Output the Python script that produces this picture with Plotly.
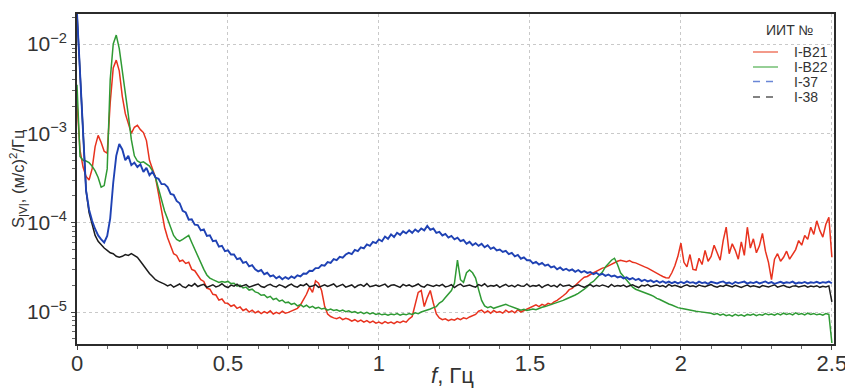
import plotly.graph_objects as go

# frequency grid, Hz (0.00 ... 2.50 step 0.01)
freq_hz = [round(0.01 * i, 2) for i in range(251)]

series_names = ["I-B21", "I-B22", "I-37", "I-38"]

s_IB21 = [
    2.2e-3, 6.5e-4, 4.2e-4, 3.3e-4, 3.0e-4, 4.0e-4, 7.1e-4, 9.5e-4, 7.9e-4, 6.3e-4,
    6.0e-4, 2.2e-3, 5.4e-3, 6.6e-3, 5.0e-3, 2.6e-3, 1.66e-3, 1.26e-3, 1.0e-3, 1.17e-3,
    1.23e-3, 1.1e-3, 1.02e-3, 8.3e-4, 5.0e-4, 4.0e-4, 3.2e-4, 2.1e-4, 1.32e-4, 8.9e-5,
    6.8e-5, 5.6e-5, 4.5e-5, 4.3e-5, 3.7e-5, 3.8e-5, 3.5e-5, 3.6e-5, 3.0e-5, 2.9e-5,
    2.6e-5, 2.3e-5, 2.2e-5, 1.85e-5, 1.8e-5, 1.58e-5, 1.55e-5, 1.36e-5, 1.4e-5, 1.26e-5,
    1.25e-5, 1.16e-5, 1.2e-5, 1.1e-5, 1.14e-5, 1.04e-5, 1.08e-5, 1.0e-5, 1.05e-5, 9.8e-6,
    1.02e-5, 9.6e-6, 1.01e-5, 9.7e-6, 1.03e-5, 9.5e-6, 9.9e-6, 9.6e-6, 1.02e-5, 9.7e-6,
    9.9e-6, 1.02e-5, 1.05e-5, 1.1e-5, 1.2e-5, 1.38e-5, 1.58e-5, 1.9e-5, 1.66e-5, 2.24e-5,
    2.1e-5, 1.74e-5, 1.17e-5, 9.5e-6, 8.9e-6, 8.6e-6, 8.4e-6, 8.7e-6, 8.2e-6, 8.5e-6,
    8.3e-6, 7.9e-6, 8.2e-6, 7.8e-6, 8.1e-6, 7.7e-6, 8.0e-6, 7.6e-6, 7.9e-6, 7.5e-6,
    7.7e-6, 7.4e-6, 7.8e-6, 7.5e-6, 7.7e-6, 7.4e-6, 7.8e-6, 7.6e-6, 7.9e-6, 7.7e-6,
    8.4e-6, 8.9e-6, 1.2e-5, 1.66e-5, 1.74e-5, 1.15e-5, 1.45e-5, 1.74e-5, 1.26e-5, 9.5e-6,
    8.6e-6, 8.2e-6, 8.4e-6, 8.0e-6, 8.3e-6, 8.1e-6, 8.5e-6, 8.2e-6, 8.6e-6, 8.4e-6,
    8.8e-6, 9.1e-6, 9.4e-6, 1.02e-5, 1.05e-5, 9.8e-6, 1.03e-5, 9.7e-6, 1.04e-5, 9.9e-6,
    1.01e-5, 9.7e-6, 1.05e-5, 9.9e-6, 1.03e-5, 9.8e-6, 1.06e-5, 1.0e-5, 1.04e-5, 1.08e-5,
    1.12e-5, 1.16e-5, 1.2e-5, 1.15e-5, 1.22e-5, 1.18e-5, 1.25e-5, 1.22e-5, 1.3e-5, 1.35e-5,
    1.45e-5, 1.52e-5, 1.62e-5, 1.78e-5, 1.84e-5, 2.0e-5, 2.14e-5, 2.3e-5, 2.45e-5, 2.5e-5,
    2.63e-5, 2.75e-5, 2.82e-5, 3.0e-5, 3.1e-5, 3.16e-5, 3.3e-5, 3.45e-5, 3.55e-5, 3.7e-5,
    3.8e-5, 3.72e-5, 3.65e-5, 3.76e-5, 3.6e-5, 3.55e-5, 3.45e-5, 3.3e-5, 3.2e-5, 3.1e-5,
    2.95e-5, 2.85e-5, 2.7e-5, 2.6e-5, 2.5e-5, 2.42e-5, 2.4e-5, 2.75e-5, 3.3e-5, 4.2e-5,
    5.9e-5, 3.6e-5, 3.2e-5, 4.4e-5, 3.0e-5, 2.95e-5, 4.0e-5, 3.4e-5, 4.9e-5, 3.7e-5,
    4.2e-5, 5.6e-5, 4.6e-5, 3.8e-5, 6.3e-5, 8.9e-5, 4.5e-5, 5.8e-5, 4.9e-5, 3.9e-5,
    6.1e-5, 4.3e-5, 8.9e-5, 5.2e-5, 6.6e-5, 4.6e-5, 5.5e-5, 7.6e-5, 4.8e-5, 3.6e-5,
    2.3e-5, 3.9e-5, 4.5e-5, 3.7e-5, 4.1e-5, 4.8e-5, 3.9e-5, 4.4e-5, 5.0e-5, 6.3e-5,
    5.6e-5, 7.2e-5, 6.5e-5, 8.9e-5, 7.4e-5, 1.05e-4, 8.2e-5, 6.9e-5, 9.6e-5, 1.15e-4,
    4.1e-5,
]

s_IB22 = [
    3.5e-3, 5.5e-4, 5.0e-4, 4.9e-4, 4.7e-4, 4.3e-4, 3.8e-4, 3.2e-4, 2.5e-4, 2.6e-4,
    4.0e-4, 4.0e-3, 1.0e-2, 1.26e-2, 8.9e-3, 5.2e-3, 3.0e-3, 1.6e-3, 8.5e-4, 5.6e-4,
    4.9e-4, 4.7e-4, 4.8e-4, 4.5e-4, 4.3e-4, 3.8e-4, 3.2e-4, 2.4e-4, 1.74e-4, 1.35e-4,
    1.1e-4, 8.7e-5, 7.2e-5, 6.5e-5, 6.2e-5, 6.5e-5, 6.9e-5, 7.2e-5, 6.0e-5, 5.0e-5,
    4.2e-5, 3.5e-5, 3.0e-5, 2.6e-5, 2.4e-5, 2.3e-5, 2.2e-5, 2.14e-5, 2.2e-5, 2.16e-5,
    2.2e-5, 2.08e-5, 2.1e-5, 1.95e-5, 2.0e-5, 1.86e-5, 1.9e-5, 1.76e-5, 1.8e-5, 1.68e-5,
    1.64e-5, 1.54e-5, 1.56e-5, 1.45e-5, 1.5e-5, 1.38e-5, 1.42e-5, 1.32e-5, 1.36e-5, 1.27e-5,
    1.29e-5, 1.22e-5, 1.25e-5, 1.17e-5, 1.21e-5, 1.14e-5, 1.19e-5, 1.12e-5, 1.16e-5, 1.1e-5,
    1.13e-5, 1.08e-5, 1.1e-5, 1.05e-5, 1.08e-5, 1.04e-5, 1.06e-5, 1.02e-5, 1.05e-5, 1.01e-5,
    1.03e-5, 9.9e-6, 1.01e-5, 9.7e-6, 1.0e-5, 9.6e-6, 9.9e-6, 9.5e-6, 9.8e-6, 9.4e-6,
    9.6e-6, 9.3e-6, 9.5e-6, 9.2e-6, 9.5e-6, 9.3e-6, 9.6e-6, 9.2e-6, 9.5e-6, 9.3e-6,
    9.6e-6, 9.4e-6, 9.8e-6, 9.6e-6, 1.0e-5, 1.02e-5, 1.05e-5, 1.08e-5, 1.12e-5, 1.15e-5,
    1.26e-5, 1.32e-5, 1.45e-5, 1.6e-5, 1.74e-5, 2.1e-5, 3.8e-5, 2.3e-5, 2.15e-5, 2.75e-5,
    2.95e-5, 2.75e-5, 2.4e-5, 1.78e-5, 1.35e-5, 1.17e-5, 1.12e-5, 1.15e-5, 1.1e-5, 1.13e-5,
    1.16e-5, 1.2e-5, 1.22e-5, 1.18e-5, 1.14e-5, 1.1e-5, 1.08e-5, 1.05e-5, 1.07e-5, 1.04e-5,
    1.05e-5, 1.08e-5, 1.06e-5, 1.1e-5, 1.13e-5, 1.15e-5, 1.18e-5, 1.2e-5, 1.24e-5, 1.27e-5,
    1.32e-5, 1.35e-5, 1.4e-5, 1.44e-5, 1.5e-5, 1.55e-5, 1.62e-5, 1.7e-5, 1.8e-5, 1.92e-5,
    2.1e-5, 2.2e-5, 2.4e-5, 2.6e-5, 2.8e-5, 3.2e-5, 3.5e-5, 3.8e-5, 4.0e-5, 3.4e-5,
    2.75e-5, 2.5e-5, 2.3e-5, 2.1e-5, 1.9e-5, 1.8e-5, 1.74e-5, 1.7e-5, 1.66e-5, 1.6e-5,
    1.55e-5, 1.5e-5, 1.42e-5, 1.38e-5, 1.32e-5, 1.28e-5, 1.23e-5, 1.2e-5, 1.15e-5, 1.12e-5,
    1.1e-5, 1.08e-5, 1.06e-5, 1.05e-5, 1.03e-5, 1.02e-5, 1.01e-5, 1.0e-5, 9.9e-6, 9.8e-6,
    9.7e-6, 9.4e-6, 9.6e-6, 9.2e-6, 9.5e-6, 9.1e-6, 9.3e-6, 9.0e-6, 9.4e-6, 9.1e-6,
    9.3e-6, 9.0e-6, 9.4e-6, 9.2e-6, 9.5e-6, 9.1e-6, 9.4e-6, 9.2e-6, 9.6e-6, 9.3e-6,
    9.5e-6, 9.2e-6, 9.6e-6, 9.3e-6, 9.7e-6, 9.4e-6, 9.6e-6, 9.3e-6, 9.8e-6, 9.4e-6,
    9.6e-6, 9.3e-6, 9.7e-6, 9.4e-6, 9.6e-6, 9.3e-6, 9.5e-6, 9.2e-6, 9.6e-6, 9.4e-6,
    4.5e-6,
]

s_I37 = [
    2.2e-2, 5.0e-3, 8.3e-4, 2.3e-4, 1.4e-4, 1.05e-4, 8.5e-5, 7.2e-5, 6.5e-5, 6.0e-5,
    7.1e-5, 1.12e-4, 2.8e-4, 5.6e-4, 7.6e-4, 6.6e-4, 5.0e-4, 5.6e-4, 4.4e-4, 4.7e-4,
    4.2e-4, 4.5e-4, 3.7e-4, 4.1e-4, 3.4e-4, 3.7e-4, 3.2e-4, 3.1e-4, 2.7e-4, 2.7e-4,
    2.5e-4, 2.1e-4, 2.05e-4, 1.75e-4, 1.65e-4, 1.36e-4, 1.3e-4, 1.08e-4, 1.09e-4, 9.5e-5,
    9.4e-5, 8.2e-5, 8.4e-5, 7.1e-5, 7.2e-5, 6.2e-5, 6.3e-5, 5.4e-5, 5.5e-5, 4.8e-5,
    4.9e-5, 4.4e-5, 4.4e-5, 3.9e-5, 4.0e-5, 3.55e-5, 3.65e-5, 3.25e-5, 3.35e-5, 3.0e-5,
    2.85e-5, 2.95e-5, 2.65e-5, 2.75e-5, 2.5e-5, 2.58e-5, 2.38e-5, 2.5e-5, 2.33e-5, 2.46e-5,
    2.35e-5, 2.5e-5, 2.4e-5, 2.58e-5, 2.5e-5, 2.7e-5, 2.68e-5, 2.9e-5, 2.88e-5, 3.1e-5,
    3.1e-5, 3.35e-5, 3.3e-5, 3.62e-5, 3.55e-5, 3.9e-5, 3.8e-5, 4.15e-5, 4.05e-5, 4.4e-5,
    4.6e-5, 4.45e-5, 4.95e-5, 4.8e-5, 5.3e-5, 5.15e-5, 5.7e-5, 5.5e-5, 6.1e-5, 5.9e-5,
    6.5e-5, 6.2e-5, 7.0e-5, 6.6e-5, 7.4e-5, 6.9e-5, 7.7e-5, 7.3e-5, 8.0e-5, 7.6e-5,
    8.2e-5, 7.7e-5, 8.4e-5, 7.9e-5, 8.6e-5, 8.2e-5, 9.2e-5, 8.3e-5, 8.6e-5, 7.7e-5,
    7.9e-5, 7.2e-5, 7.5e-5, 6.8e-5, 7.1e-5, 6.5e-5, 6.8e-5, 6.2e-5, 6.4e-5, 5.8e-5,
    6.1e-5, 5.6e-5, 5.9e-5, 5.5e-5, 5.8e-5, 5.3e-5, 5.6e-5, 5.1e-5, 5.3e-5, 4.9e-5,
    5.0e-5, 4.7e-5, 4.85e-5, 4.45e-5, 4.6e-5, 4.2e-5, 4.35e-5, 3.95e-5, 4.1e-5, 3.8e-5,
    3.8e-5, 3.5e-5, 3.65e-5, 3.4e-5, 3.55e-5, 3.3e-5, 3.4e-5, 3.15e-5, 3.25e-5, 3.0e-5,
    3.15e-5, 2.95e-5, 3.05e-5, 2.9e-5, 3.0e-5, 2.82e-5, 2.95e-5, 2.78e-5, 2.88e-5, 2.74e-5,
    2.8e-5, 2.66e-5, 2.75e-5, 2.6e-5, 2.68e-5, 2.54e-5, 2.63e-5, 2.5e-5, 2.56e-5, 2.44e-5,
    2.5e-5, 2.38e-5, 2.44e-5, 2.32e-5, 2.4e-5, 2.28e-5, 2.35e-5, 2.22e-5, 2.3e-5, 2.2e-5,
    2.26e-5, 2.16e-5, 2.24e-5, 2.13e-5, 2.21e-5, 2.12e-5, 2.19e-5, 2.1e-5, 2.18e-5, 2.09e-5,
    2.17e-5, 2.1e-5, 2.2e-5, 2.12e-5, 2.16e-5, 2.08e-5, 2.19e-5, 2.11e-5, 2.15e-5, 2.07e-5,
    2.18e-5, 2.12e-5, 2.09e-5, 2.16e-5, 2.2e-5, 2.1e-5, 2.14e-5, 2.06e-5, 2.17e-5, 2.11e-5,
    2.13e-5, 2.19e-5, 2.08e-5, 2.15e-5, 2.11e-5, 2.18e-5, 2.09e-5, 2.14e-5, 2.2e-5, 2.1e-5,
    2.16e-5, 2.07e-5, 2.13e-5, 2.18e-5, 2.1e-5, 2.15e-5, 2.12e-5, 2.19e-5, 2.08e-5, 2.14e-5,
    2.11e-5, 2.17e-5, 2.09e-5, 2.15e-5, 2.12e-5, 2.18e-5, 2.1e-5, 2.16e-5, 2.13e-5, 2.19e-5,
    2.1e-5,
]

s_I38 = [
    2.2e-2, 5.0e-3, 8.3e-4, 2.3e-4, 1.3e-4, 9.3e-5, 7.2e-5, 6.2e-5, 5.6e-5, 5.2e-5,
    4.9e-5, 4.6e-5, 4.5e-5, 4.2e-5, 4.1e-5, 4.2e-5, 4.4e-5, 4.3e-5, 4.5e-5, 4.3e-5,
    4.1e-5, 3.7e-5, 3.3e-5, 3.0e-5, 2.7e-5, 2.5e-5, 2.3e-5, 2.2e-5, 2.1e-5, 2.05e-5,
    1.96e-5, 2.03e-5, 1.90e-5, 1.98e-5, 2.06e-5, 1.92e-5, 1.87e-5, 2.01e-5, 1.95e-5, 2.08e-5,
    1.93e-5, 1.99e-5, 2.04e-5, 1.89e-5, 1.97e-5, 2.02e-5, 1.91e-5, 1.96e-5, 2.07e-5, 1.94e-5,
    1.88e-5, 2.00e-5, 1.95e-5, 2.05e-5, 1.92e-5, 1.98e-5, 2.03e-5, 1.90e-5, 1.97e-5, 2.01e-5,
    2.06e-5, 1.93e-5, 1.89e-5, 1.99e-5, 2.04e-5, 1.95e-5, 1.91e-5, 2.02e-5, 1.96e-5, 1.88e-5,
    1.98e-5, 2.05e-5, 1.94e-5, 1.90e-5, 2.01e-5, 1.97e-5, 2.07e-5, 1.92e-5, 1.95e-5, 2.03e-5,
    1.89e-5, 1.96e-5, 2.02e-5, 1.93e-5, 1.99e-5, 2.06e-5, 1.91e-5, 1.97e-5, 2.04e-5, 1.90e-5,
    1.95e-5, 2.01e-5, 1.88e-5, 1.98e-5, 2.03e-5, 1.94e-5, 2.08e-5, 1.92e-5, 1.96e-5, 2.00e-5,
    1.93e-5, 1.97e-5, 2.05e-5, 1.90e-5, 1.99e-5, 2.02e-5, 1.95e-5, 1.89e-5, 2.04e-5, 1.96e-5,
    2.01e-5, 1.92e-5, 1.98e-5, 2.06e-5, 1.94e-5, 1.90e-5, 2.03e-5, 1.97e-5, 1.93e-5, 2.00e-5,
    1.96e-5, 2.04e-5, 1.91e-5, 1.95e-5, 2.02e-5, 1.88e-5, 1.99e-5, 2.05e-5, 1.93e-5, 1.97e-5,
    2.00e-5, 1.94e-5, 1.90e-5, 2.03e-5, 1.96e-5, 2.07e-5, 1.92e-5, 1.98e-5, 1.95e-5, 2.01e-5,
    1.89e-5, 1.97e-5, 2.04e-5, 1.93e-5, 1.99e-5, 1.91e-5, 2.02e-5, 1.96e-5, 1.94e-5, 2.06e-5,
    1.92e-5, 1.98e-5, 1.95e-5, 2.01e-5, 1.88e-5, 1.97e-5, 2.03e-5, 1.93e-5, 1.99e-5, 1.90e-5,
    2.05e-5, 1.94e-5, 1.96e-5, 2.00e-5, 1.91e-5, 1.98e-5, 2.02e-5, 1.95e-5, 1.89e-5, 1.97e-5,
    2.03e-5, 1.92e-5, 1.99e-5, 1.94e-5, 2.01e-5, 1.96e-5, 1.90e-5, 2.04e-5, 1.93e-5, 1.98e-5,
    1.95e-5, 2.00e-5, 1.91e-5, 1.97e-5, 2.02e-5, 1.94e-5, 1.88e-5, 1.99e-5, 1.96e-5, 2.03e-5,
    1.92e-5, 1.97e-5, 2.01e-5, 1.93e-5, 1.98e-5, 1.90e-5, 2.04e-5, 1.95e-5, 1.99e-5, 1.94e-5,
    1.89e-5, 1.96e-5, 2.02e-5, 1.93e-5, 1.97e-5, 1.91e-5, 2.00e-5, 1.95e-5, 1.92e-5, 1.98e-5,
    2.03e-5, 1.94e-5, 1.90e-5, 1.97e-5, 1.93e-5, 2.01e-5, 1.96e-5, 1.91e-5, 1.99e-5, 1.94e-5,
    1.88e-5, 1.95e-5, 2.00e-5, 1.92e-5, 1.97e-5, 1.93e-5, 1.89e-5, 1.98e-5, 1.94e-5, 1.91e-5,
    1.96e-5, 2.02e-5, 1.90e-5, 1.94e-5, 1.99e-5, 1.92e-5, 1.88e-5, 1.95e-5, 1.97e-5, 1.91e-5,
    1.93e-5, 1.98e-5, 1.90e-5, 1.95e-5, 1.92e-5, 1.97e-5, 1.89e-5, 1.94e-5, 1.91e-5, 1.96e-5,
    1.3e-5,
]

for arr in (s_IB21, s_IB22, s_I37, s_I38):
    assert len(arr) == len(freq_hz), len(arr)

y_tick_vals = [1e-5, 1e-4, 1e-3, 1e-2]
y_tick_text = ["10<sup>\u22125</sup>", "10<sup>\u22124</sup>", "10<sup>\u22123</sup>", "10<sup>\u22122</sup>"]
x_tick_vals = [0, 0.5, 1, 1.5, 2, 2.5]
x_tick_text = ["0", "0.5", "1", "1.5", "2", "2.5"]
x_title = "<i>f</i>, Гц"
y_title = "S<sub>|V|</sub>, (м/с)<sup>2</sup>/Гц"
legend_title = "ИИТ №"

line_colors = {"I-B21": "#e8321e", "I-B22": "#2f9a34", "I-37": "#1f42b4", "I-38": "#1c1c1c"}
line_widths = {"I-B21": 1.5, "I-B22": 1.5, "I-37": 1.9, "I-38": 1.5}
legend_colors = {"I-B21": "#f0806c", "I-B22": "#7cc47c", "I-37": "#6a86d6", "I-38": "#5a5a5a"}
legend_dash = {"I-B21": "solid", "I-B22": "solid", "I-37": "7px,6px", "I-38": "7px,6px"}

FONT = "Liberation Sans, Arial, sans-serif"
TXT = "#333333"

fig = go.Figure()
data_map = {"I-B21": s_IB21, "I-B22": s_IB22, "I-38": s_I38, "I-37": s_I37}
for name in ["I-B21", "I-B22", "I-38", "I-37"]:
    fig.add_trace(go.Scatter(
        x=freq_hz, y=data_map[name], mode="lines", name=name,
        line=dict(color=line_colors[name], width=line_widths[name]),
        showlegend=False,
    ))

# plot-area geometry (pixels) used to place the hand-drawn legend and axis titles
L, R, T, B = 77, 834, 14, 344
def px(x):
    return (x - L) / (R - L)
def py(y):
    return (B - y) / (B - T)

annotations = [
    dict(x=px(790), y=py(30), xref="paper", yref="paper", text=legend_title,
         showarrow=False, xanchor="center", yanchor="middle", borderpad=0, height=14,
         font=dict(family=FONT, size=14, color=TXT)),
    dict(x=px(452), y=py(375), xref="paper", yref="paper", text=x_title,
         showarrow=False, xanchor="center", yanchor="middle", borderpad=0,
         font=dict(family=FONT, size=22, color=TXT)),
    dict(x=px(18), y=py(178), xref="paper", yref="paper", text=y_title, textangle=-90,
         showarrow=False, xanchor="center", yanchor="middle", borderpad=0,
         font=dict(family=FONT, size=16.5, color=TXT)),
]
shapes = []
legend_rows = [52, 67, 81.5, 97]
for name, yy in zip(series_names, legend_rows):
    annotations.append(dict(
        x=px(793), y=py(yy), xref="paper", yref="paper", text=name,
        showarrow=False, xanchor="left", yanchor="middle", borderpad=0, height=14,
        font=dict(family=FONT, size=14, color=TXT),
    ))
    shapes.append(dict(
        type="line", xref="paper", yref="paper",
        x0=px(753), x1=px(778), y0=py(yy), y1=py(yy),
        line=dict(color=legend_colors[name], width=1.6, dash=legend_dash[name]),
    ))

minor_y = [m * 10.0 ** e for e in range(-6, -1) for m in range(2, 10)]

fig.update_layout(
    width=845, height=388,
    margin=dict(l=L, r=845 - R, t=T, b=388 - B, autoexpand=False),
    paper_bgcolor="white", plot_bgcolor="white",
    showlegend=False,
    annotations=annotations, shapes=shapes,
    font=dict(family=FONT, color=TXT),
)
fig.update_xaxes(
    range=[0, 2.507], tickmode="array", tickvals=x_tick_vals, ticktext=x_tick_text,
    ticks="outside", ticklen=4, tickcolor="#444", ticklabeloverflow="allow", automargin=False,
    ticklabelstandoff=-5,
    minor=dict(tickmode="linear", tick0=0, dtick=0.1, ticks="outside", ticklen=3, tickcolor="#666", showgrid=False),
    showgrid=True, gridcolor="#c9c9c9", griddash="dot", gridwidth=1,
    showline=True, linecolor="#2b2b2b", linewidth=1.6, mirror=True, zeroline=False,
    tickfont=dict(family=FONT, size=22, color=TXT),
)
fig.update_yaxes(
    type="log", range=[-5.358, -1.664], automargin=False,
    tickmode="array", tickvals=y_tick_vals, ticktext=y_tick_text,
    ticks="outside", ticklen=4, tickcolor="#444",
    minor=dict(tickmode="array", tickvals=minor_y, ticks="outside", ticklen=3, tickcolor="#666", showgrid=False),
    showgrid=True, gridcolor="#c9c9c9", griddash="dot", gridwidth=1,
    showline=True, linecolor="#2b2b2b", linewidth=1.6, mirror=True, zeroline=False,
    tickfont=dict(family=FONT, size=21, color=TXT),
)

fig.write_html("out.html")
